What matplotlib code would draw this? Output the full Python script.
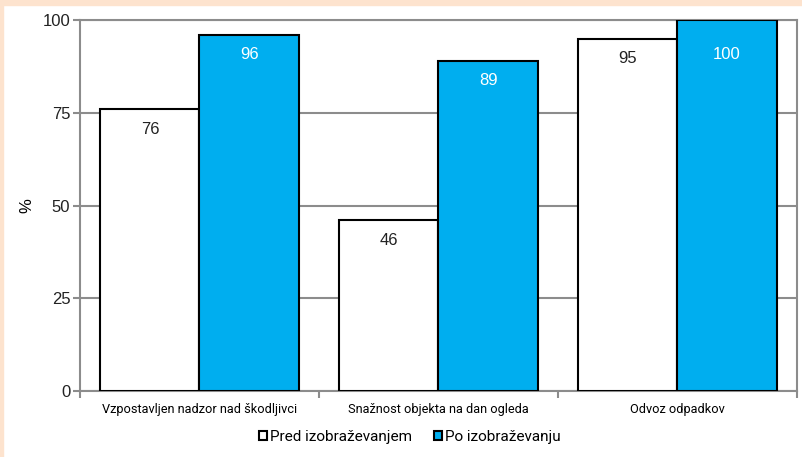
import matplotlib
matplotlib.use("Agg")
import matplotlib.pyplot as plt
import numpy as np
from matplotlib.patches import Rectangle

# podatki
kategorije = ["Vzpostavljen nadzor nad škodljivci", "Snažnost objekta na dan ogleda", "Odvoz odpadkov"]
pred = [76, 46, 95]
po = [96, 89, 100]
serije = ["Pred izobraževanjem", "Po izobraževanju"]
y_ticks = [0, 25, 50, 75, 100]

modra = "#00AEEF"
siva = "#8C8C8C"
ozka = ["Roboto", "DejaVu Sans"]
oznake = ["Liberation Sans", "DejaVu Sans"]

fig = plt.figure(figsize=(8.03, 4.57), dpi=100)
fig.patch.set_facecolor("white")
# rob okvirja
fig.patches.append(Rectangle((0, 1 - 5 / 457), 1, 5 / 457, transform=fig.transFigure, color="#FDE3CE", zorder=0))
fig.patches.append(Rectangle((0, 0), 3 / 803, 1, transform=fig.transFigure, color="#FDE3CE", zorder=0))

ax = fig.add_axes([80 / 803, 1 - 391 / 457, 717 / 803, 371 / 457])
x = np.arange(len(kategorije))
w = 0.415

b1 = ax.bar(x - w / 2, pred, w, color="white", edgecolor="black", linewidth=1.5, label=serije[0], zorder=3)
b2 = ax.bar(x + w / 2, po, w, color=modra, edgecolor="black", linewidth=1.5, label=serije[1], zorder=3)

for rect, v in zip(b1, pred):
    ax.annotate(str(v), (rect.get_x() + rect.get_width() / 2, v), xytext=(0, -14.5), textcoords="offset points",
                ha="center", va="center", fontsize=12, color="#222222", family=oznake, zorder=4)
for rect, v in zip(b2, po):
    off = -24.5 if v == 100 else -14.5  # v originalu je oznaka pri 100 nižje
    ax.annotate(str(v), (rect.get_x() + rect.get_width() / 2, v), xytext=(0, off), textcoords="offset points",
                ha="center", va="center", fontsize=12, color="white", family=oznake, zorder=4)

ax.set_xlim(-0.5, len(kategorije) - 0.5)
ax.set_ylim(0, 100)
ax.set_yticks(y_ticks)
ax.set_yticklabels([str(t) for t in y_ticks], fontsize=12, family="Liberation Sans", color="#222222")
ax.yaxis.grid(True, color=siva, linewidth=1.5, zorder=0)
ax.tick_params(axis="y", color=siva, width=1.5, length=5, pad=2)

ax.set_xticks(x)
ax.set_xticklabels(kategorije, fontsize=9.2, family=ozka)
ax.tick_params(axis="x", length=0, pad=9)
ax.set_xticks(np.arange(len(kategorije) + 1) - 0.5, minor=True)
ax.tick_params(axis="x", which="minor", color=siva, width=1.5, length=5)

for s in ax.spines.values():
    s.set_color(siva)
    s.set_linewidth(1.5)

ax.set_ylabel("%", fontsize=12, family="Liberation Sans", labelpad=6)

leg = fig.legend(handles=[b1, b2], loc="center", bbox_to_anchor=(410 / 803, 1 - 437 / 457), ncol=2, frameon=False,
                 prop={"family": ozka, "size": 11}, handlelength=0.55, handleheight=0.55,
                 handletextpad=0.2, columnspacing=1.4)

fig.savefig("out.png", dpi=100)
